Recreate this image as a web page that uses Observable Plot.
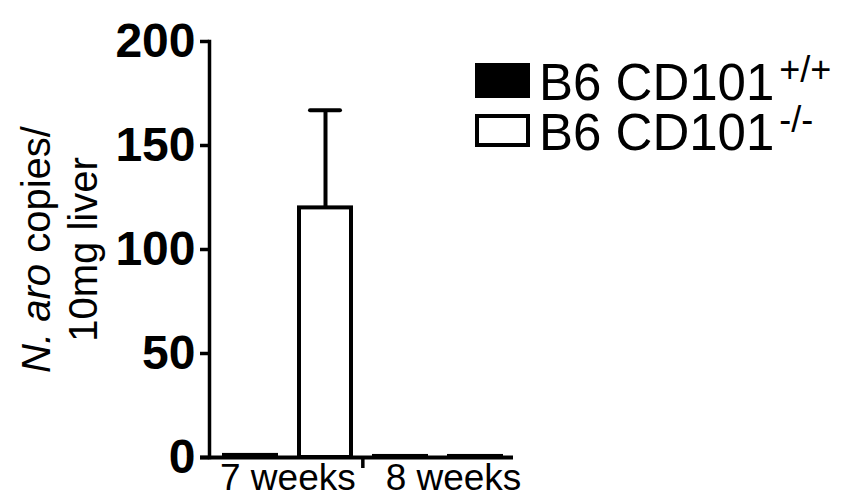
<!DOCTYPE html>
<html>
<head>
<meta charset="utf-8">
<script src="https://cdn.jsdelivr.net/npm/d3@7"></script>
<script src="https://cdn.jsdelivr.net/npm/@observablehq/plot@0.6"></script>
<style>
  html, body { margin: 0; padding: 0; background: #fff; }
  #wrap { position: relative; width: 851px; height: 500px; font-family: "Liberation Sans", Arial, sans-serif; color: #000; }
  #legend .sw { position: absolute; left: 475px; width: 55px; box-sizing: border-box; }
  #legend .lab { position: absolute; left: 539px; font-size: 51px; line-height: 44px; height: 44px; white-space: nowrap; }
  #legend .lab span { font-size: 36px; vertical-align: 18px; margin-left: 5px; line-height: 20px; }
</style>
</head>
<body>
<div id="wrap">
  <div id="chart"></div>
  <div id="legend"></div>
</div>
<script>
// ---- data ----
const groups = ["7 weeks", "8 weeks"];
const genotypes = ["+/+", "-/-"];
const legendLabels = ["B6 CD101", "B6 CD101"];
const wtMeans = [1, 0.5];
const koMeans = [120, 0.5];
const wtErrors = [0, 0];
const koErrors = [47, 0];
const yTicks = [0, 50, 100, 150, 200];
const fills = ["black", "white"];

// ---- table ----
const rows = [];
groups.forEach((g, i) => {
  rows.push({group: g, genotype: genotypes[0], key: g + "|" + genotypes[0], mean: wtMeans[i], err: wtErrors[i]});
  rows.push({group: g, genotype: genotypes[1], key: g + "|" + genotypes[1], mean: koMeans[i], err: koErrors[i]});
});
const keys = rows.map(d => d.key);
const errRows = rows.filter(d => d.err > 0);

const xRange = [223, 501];
const padInner = 0.31;
const step = (xRange[1] - xRange[0]) / (keys.length - padInner);

const font = "'Liberation Sans', Arial, sans-serif";

const chart = Plot.plot({
  width: 851,
  height: 500,
  marginTop: 41,
  marginBottom: 43,
  marginLeft: 209,
  marginRight: 338,
  style: {fontFamily: font, background: "white", color: "black"},
  x: {type: "band", domain: keys, range: xRange, paddingInner: padInner, paddingOuter: 0, axis: null},
  y: {domain: [0, 200], axis: null},
  color: {domain: genotypes, range: fills},
  marks: [
    Plot.axisY({ticks: yTicks, tickSize: 9, tickPadding: 5, fontSize: 48, fontWeight: "bold", strokeWidth: 3.5, label: null}),
    Plot.frame({anchor: "left", strokeWidth: 3.5}),
    Plot.barY(rows, {x: "key", y: "mean", fill: "genotype", stroke: "black", strokeWidth: 4}),
    Plot.ruleX(errRows, {x: "key", y1: "mean", y2: d => d.mean + d.err, strokeWidth: 4}),
    Plot.tickY(errRows, {x: "key", y: d => d.mean + d.err, strokeWidth: 4, inset: 11, strokeLinecap: "round"}),
    Plot.ruleY([0], {strokeWidth: 4, insetLeft: -9}),
    Plot.ruleX([groups[1] + "|" + genotypes[0]], {x: d => d, y1: 0, y2: 0, insetBottom: -11, dx: -step / 2, strokeWidth: 3.5}),
    Plot.text([groups[0]], {x: d => d + "|" + genotypes[1], frameAnchor: "bottom", y: 0, lineAnchor: "top", dy: 6, dx: -step / 2, fontSize: 37, text: d => d}),
    Plot.text([groups[1]], {x: d => d + "|" + genotypes[1], frameAnchor: "bottom", y: 0, lineAnchor: "top", dy: 6, dx: -22, fontSize: 37, text: d => d}),
    Plot.text(["N. aro copies/\n10mg liver"], {frameAnchor: "left", textAnchor: "middle", lineAnchor: "middle", rotate: -90, dx: -151, dy: 0, fontSize: 40, lineHeight: 1.17})
  ]
});
document.getElementById("chart").appendChild(chart);

// italic species name in y label
d3.select(chart).selectAll("tspan").each(function () {
  const s = d3.select(this);
  if (s.text() === "N. aro copies/") {
    s.text("");
    s.append("tspan").attr("font-style", "italic").text("N. aro");
    s.append("tspan").text(" copies/");
  }
});

// legend
const legend = d3.select("#legend");
const swTop = [63, 114];
const swH = [35, 33];
const labTop = [60, 110];
genotypes.forEach((g, i) => {
  legend.append("div").attr("class", "sw")
    .style("top", swTop[i] + "px").style("height", swH[i] + "px")
    .style("background", fills[i]).style("border", "4px solid black");
  legend.append("div").attr("class", "lab").style("top", labTop[i] + "px")
    .html(legendLabels[i] + "<span>" + g + "</span>");
});
</script>
</body>
</html>
